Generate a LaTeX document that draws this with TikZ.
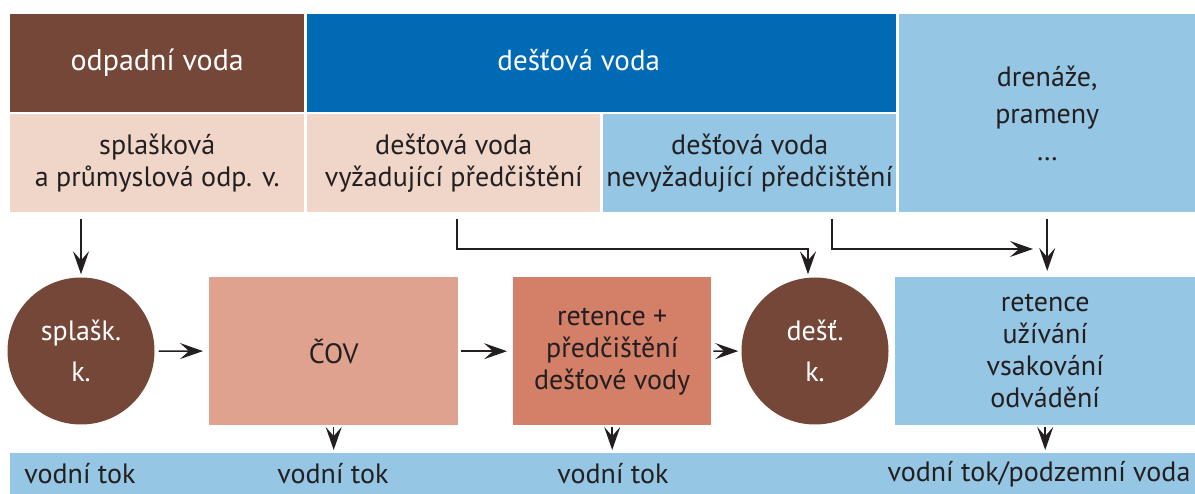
\documentclass[tikz,border=0pt]{standalone}
\usepackage{fontspec}
\setmainfont{PT Sans}
\usetikzlibrary{arrows.meta,positioning}
\definecolor{hneda}{RGB}{116,71,56}
\definecolor{modra}{RGB}{0,106,180}
\definecolor{ruzova}{RGB}{240,214,200}
\definecolor{svmodra}{RGB}{149,198,228}
\definecolor{covbarva}{RGB}{223,162,142}
\definecolor{retbarva}{RGB}{212,127,104}
\definecolor{textbarva}{RGB}{35,31,32}
\tikzset{
  blok/.style={anchor=north west, inner sep=0pt, align=center, text=textbarva,
    font=\fontsize{28}{32}\selectfont},
  kruh/.style={circle, fill=hneda, minimum size=147pt, inner sep=0pt, align=center,
    text=white, font=\fontsize{28}{41}\selectfont},
  sipka/.style={-{Stealth[length=23pt,width=16pt,inset=9pt]}, line width=1.5pt, draw=textbarva},
}

\begin{document}
\begin{tikzpicture}[x=1pt,y=-1pt]
        \useasboundingbox (0,0) rectangle (1195,494);
        \node[blok, fill=hneda, text=white, minimum width=294pt, minimum height=98pt,
          font=\fontsize{30}{33}\selectfont] (odpad) at (10,14) {odpadní voda};
        \node[blok, fill=modra, minimum width=589pt, minimum height=98pt] (destova) at (307,14) {};
        \node[text=white, font=\fontsize{29}{33}\selectfont, inner sep=0pt] (destovatext)
          at ([xshift=-23pt,yshift=3pt]destova.center) {dešťová voda};
        \node[blok, fill=svmodra, minimum width=296pt, minimum height=198pt,
          font=\fontsize{28}{37}\selectfont] (drenaze) at (899,14) {drenáže,\\prameny\\\dots};
        \node[blok, fill=ruzova, minimum width=294pt, minimum height=98pt] (splaskova) at (10,114) {splašková\\a průmyslová odp. v.};
        \node[blok, fill=ruzova, minimum width=293pt, minimum height=98pt] (vyzad) at (307,114) {dešťová voda\\vyžadující předčištění};
        \node[blok, fill=svmodra, minimum width=293pt, minimum height=98pt] (nevyzad) at (603,114) {dešťová voda\\nevyžadující předčištění};

        \node[kruh] (splk) at (81,351) {splašk.\\k.};
        \node[blok, fill=covbarva, minimum width=249pt, minimum height=148pt] (cov) at (209,277) {ČOV};
        \node[blok, fill=retbarva, minimum width=198pt, minimum height=148pt] (ret) at (513,277) {retence +\\předčištění\\dešťové vody};
        \node[kruh] (desk) at (815,351) {dešť.\\k.};
        \node[blok, fill=svmodra, minimum width=300pt, minimum height=148pt] (vsak) at (895,277) {retence\\užívání\\vsakování\\odvádění};

        \node[blok, fill=svmodra, minimum width=1185pt, minimum height=41pt] (bar) at (10,453) {};
        \foreach \x/\t [count=\i] in {80/vodní tok,333/vodní tok,613/vodní tok,1039/{vodní tok/podzemní voda}}
            \node[text=textbarva, font=\fontsize{28}{33}\selectfont, inner sep=0pt] (tok\i) at (\x,474) {\t};

        \coordinate (z1) at (457,219);
        \coordinate (k1) at (808,249);
        \coordinate (z2) at (832,219);
        \coordinate (k2) at (1033,249);
        \draw[sipka, shorten >=3pt] ([yshift=-7pt]splaskova.south -| splk.north) -- (splk.north);
        \draw[sipka, shorten >=3pt] (z1) |- (k1) -- (k1 |- desk.north);
        \draw[sipka] (z2) |- (k2);
        \draw[sipka, shorten >=6pt] ([yshift=-7pt]drenaze.south) -- (drenaze.south |- vsak.north);
        \draw[sipka, shorten <=4pt, shorten >=6pt] (splk) -- (cov);
        \draw[sipka, shorten <=3pt, shorten >=6pt] (cov) -- (ret);
        \draw[sipka, shorten <=2pt, shorten >=3pt] (ret) -- (desk);
        \foreach \n in {cov,ret,vsak}
            \draw[sipka, shorten <=2pt, shorten >=3pt] (\n.south) -- (\n.south |- bar.north);
    \end{tikzpicture}
\end{document}
